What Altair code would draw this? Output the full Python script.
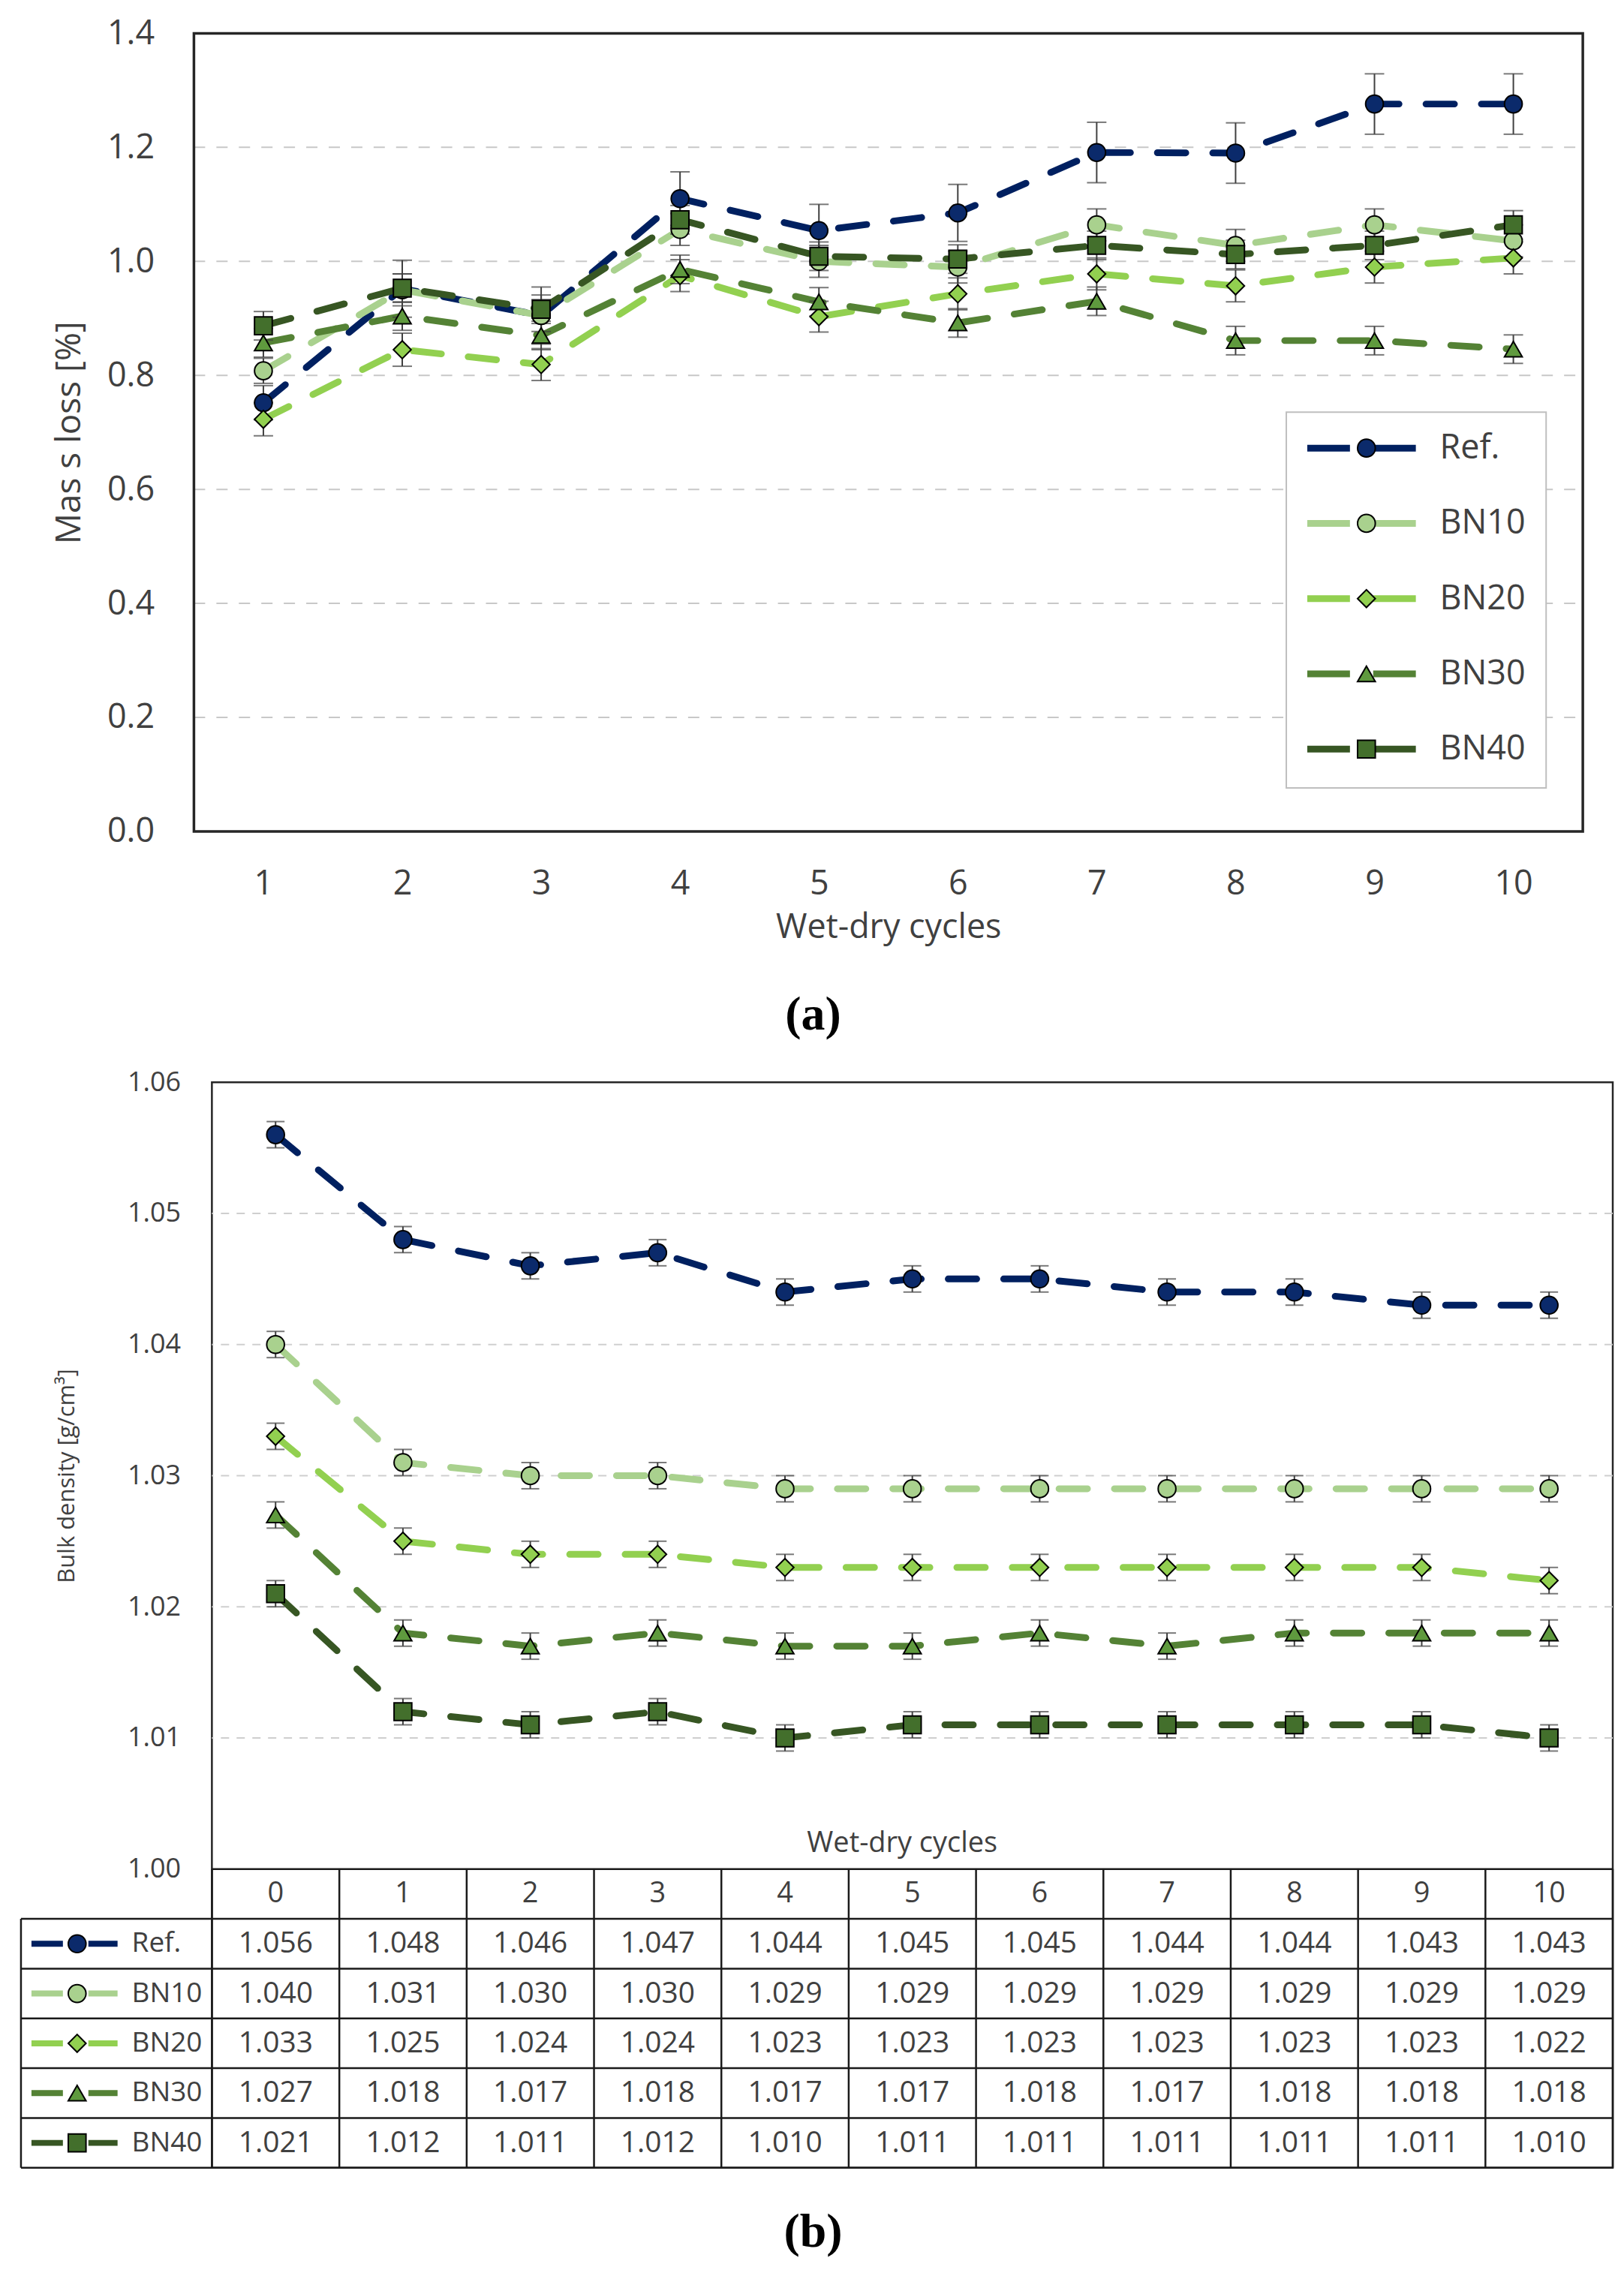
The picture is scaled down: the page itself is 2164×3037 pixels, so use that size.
import pandas as pd
import altair as alt

SERIES = ["Ref.", "BN10", "BN20", "BN30", "BN40"]
LINE_COLORS = ["#002060", "#a9d18e", "#92d050", "#548235", "#375623"]
MARKER_FILLS = ["#0b2a6b", "#a9d18e", "#92d050", "#5f9a3e", "#436f2c"]
MARKER_SHAPES = ["circle", "circle", "diamond", "triangle-up", "square"]
MARKER_SIZES = [560, 560, 330, 430, 480]
PANEL_LABELS = ["(a)", "(b)"]
TXT = "#404040"

# (a) mass loss after wet-dry cycles [%]
CYCLES_A = [1, 2, 3, 4, 5, 6, 7, 8, 9, 10]
LOSS_REF = [0.752, 0.952, 0.905, 1.110, 1.054, 1.085, 1.191, 1.190, 1.276, 1.276]
LOSS_BN10 = [0.808, 0.950, 0.905, 1.056, 1.000, 0.990, 1.064, 1.028, 1.064, 1.036]
LOSS_BN20 = [0.723, 0.845, 0.819, 0.975, 0.903, 0.943, 0.978, 0.957, 0.990, 1.006]
LOSS_BN30 = [0.857, 0.904, 0.870, 0.986, 0.929, 0.892, 0.930, 0.861, 0.861, 0.846]
LOSS_BN40 = [0.887, 0.953, 0.916, 1.073, 1.009, 1.004, 1.028, 1.012, 1.028, 1.064]
ERR_A_REF = [0.030, 0.050, 0.050, 0.047, 0.046, 0.050, 0.053, 0.053, 0.053, 0.053]
ERR_A_BN10 = [0.022, 0.028, 0.028, 0.028, 0.028, 0.028, 0.028, 0.028, 0.028, 0.028]
ERR_A_BN20 = [0.029, 0.029, 0.028, 0.028, 0.027, 0.028, 0.028, 0.028, 0.028, 0.028]
ERR_A_BN30 = [0.025, 0.025, 0.025, 0.025, 0.025, 0.025, 0.025, 0.025, 0.025, 0.025]
ERR_A_BN40 = [0.025, 0.025, 0.025, 0.025, 0.025, 0.025, 0.025, 0.025, 0.025, 0.025]
TICKS_A = [0.0, 0.2, 0.4, 0.6, 0.8, 1.0, 1.2, 1.4]
GRID_A = [0.2, 0.4, 0.6, 0.8, 1.0, 1.2]

# (b) bulk density [g/cm3]
CYCLES_B = [0, 1, 2, 3, 4, 5, 6, 7, 8, 9, 10]
DENS_REF = [1.056, 1.048, 1.046, 1.047, 1.044, 1.045, 1.045, 1.044, 1.044, 1.043, 1.043]
DENS_BN10 = [1.040, 1.031, 1.030, 1.030, 1.029, 1.029, 1.029, 1.029, 1.029, 1.029, 1.029]
DENS_BN20 = [1.033, 1.025, 1.024, 1.024, 1.023, 1.023, 1.023, 1.023, 1.023, 1.023, 1.022]
DENS_BN30 = [1.027, 1.018, 1.017, 1.018, 1.017, 1.017, 1.018, 1.017, 1.018, 1.018, 1.018]
DENS_BN40 = [1.021, 1.012, 1.011, 1.012, 1.010, 1.011, 1.011, 1.011, 1.011, 1.011, 1.010]
ERR_B = [0.001, 0.001, 0.001, 0.001, 0.001, 0.001, 0.001, 0.001, 0.001, 0.001, 0.001]
TICKS_B = [1.00, 1.01, 1.02, 1.03, 1.04, 1.05, 1.06]
GRID_B = [1.01, 1.02, 1.03, 1.04, 1.05]

# table structure: header row + one row per series, legend column + one column per cycle
ROW_EDGES = [0, 1, 2, 3, 4, 5, 6]
COL_EDGES = [-1.5, 0, 1, 2, 3, 4, 5, 6, 7, 8, 9, 10, 11]


def long_frame(cycles, values, errors):
    rows = []
    for i, (s, vals, errs) in enumerate(zip(SERIES, values, errors)):
        for c, v, e in zip(cycles, vals, errs):
            rows.append({"series": s, "row": i + 1, "cycle": c, "value": v,
                         "lo": v - e, "hi": v + e})
    return pd.DataFrame(rows)


df_a = long_frame(CYCLES_A, [LOSS_REF, LOSS_BN10, LOSS_BN20, LOSS_BN30, LOSS_BN40],
                  [ERR_A_REF, ERR_A_BN10, ERR_A_BN20, ERR_A_BN30, ERR_A_BN40])
df_b = long_frame(CYCLES_B, [DENS_REF, DENS_BN10, DENS_BN20, DENS_BN30, DENS_BN40],
                  [ERR_B] * 5)
df_b["cx"] = df_b["cycle"] + 0.5
df_b["cy"] = df_b["row"] + 0.5
df_b["txt"] = df_b["value"].map(lambda v: f"{v:.3f}")

df_leg = pd.DataFrame({"series": SERIES, "cy": [i + 1.5 for i in range(len(SERIES))]})
df_head = pd.DataFrame({"txt": [str(c) for c in CYCLES_B],
                        "cx": [c + 0.5 for c in CYCLES_B], "cy": 0.5})
df_h = pd.DataFrame({"y": ROW_EDGES,
                     "x1": [0 if r == 0 else COL_EDGES[0] for r in ROW_EDGES],
                     "x2": COL_EDGES[-1]})
df_v = pd.DataFrame({"x": COL_EDGES,
                     "y1": [1 if c == COL_EDGES[0] else 0 for c in COL_EDGES],
                     "y2": ROW_EDGES[-1]})
one = pd.DataFrame({"k": [0]})

color = alt.Color("series:N", scale=alt.Scale(domain=SERIES, range=LINE_COLORS), legend=None)
fill = alt.Fill("series:N", scale=alt.Scale(domain=SERIES, range=MARKER_FILLS), legend=None)
shape = alt.Shape("series:N", scale=alt.Scale(domain=SERIES, range=MARKER_SHAPES), legend=None)
size = alt.Size("series:N", scale=alt.Scale(domain=SERIES, range=MARKER_SIZES), legend=None)

# ---------------- (a) ----------------
# the concat lines up both plot origins, so panel (a) starts 24 px left of its origin
SHIFT = 24
W_A = 1855 - SHIFT
H_A = 1066
ax_xa = alt.Axis(title="Wet-dry cycles", labelAngle=0, ticks=False, tickSize=0, domain=False,
                 labelFontSize=45, labelPadding=48, labelColor=TXT, titleFontSize=45,
                 titleFontWeight="normal", titleColor=TXT, titlePadding=13)
ax_ya = alt.Axis(title="Mas s loss [%]", values=TICKS_A, format=".1f", grid=False, ticks=False,
                 tickSize=0, domain=False, offset=SHIFT, labelFontSize=45, labelPadding=53,
                 labelColor=TXT, titleFontSize=46, titleFontWeight="normal", titleColor=TXT,
                 titlePadding=26)
x_a = alt.X("cycle:O", scale=alt.Scale(type="point", padding=0.5, range=[-SHIFT, W_A]), axis=ax_xa)


def y_a(field):
    return alt.Y(f"{field}:Q", scale=alt.Scale(domain=[0, 1.4], nice=False), axis=ax_ya)


base_a = alt.Chart(df_a)
grid_a = alt.Chart(pd.DataFrame({"g": GRID_A})).mark_rule(
    color="#c8c8c8", strokeWidth=2, strokeDash=[15, 15]).encode(
    x=alt.value(-SHIFT), x2=alt.value(W_A), y=y_a("g"))
frame_a = alt.Chart(one).mark_rect(fill=None, stroke="#262626", strokeWidth=3.5).encode(
    x=alt.value(-SHIFT), x2=alt.value(W_A), y=alt.value(0), y2=alt.value(H_A))
lines_a = base_a.mark_line(strokeWidth=9, strokeDash=[38, 36], strokeCap="round").encode(
    x=x_a, y=y_a("value"), color=color)
err_a = base_a.mark_rule(color="#404040", strokeWidth=2).encode(
    x=x_a, y=y_a("lo"), y2="hi:Q")
caps_a = base_a.transform_fold(["lo", "hi"], as_=["end", "cap"]).mark_tick(
    color="#404040", thickness=2, size=26).encode(x=x_a, y=y_a("cap"))
pts_a = base_a.mark_point(filled=True, stroke="black", strokeWidth=2, opacity=1).encode(
    x=x_a, y=y_a("value"), fill=fill, shape=shape, size=size)
label_a = alt.Chart(one).mark_text(
    text=PANEL_LABELS[0], font="Liberation Serif", fontWeight="bold", fontSize=64,
    color="black").encode(x=alt.value(827 - SHIFT), y=alt.value(1312))
bound_a = alt.Chart(one).mark_rule(opacity=0, strokeWidth=1).encode(
    x=alt.value(-255), y=alt.value(-30), y2=alt.value(1367))

leg_y = alt.Y("series:N", scale=alt.Scale(type="point", domain=SERIES, range=[554, 956], padding=0),
              axis=None, sort=SERIES)
leg_box = alt.Chart(one).mark_rect(fill="white", stroke="#bfbfbf", strokeWidth=2).encode(
    x=alt.value(1459 - SHIFT), x2=alt.value(1806 - SHIFT), y=alt.value(506), y2=alt.value(1008))
leg_lines = alt.Chart(df_leg).mark_rule(strokeWidth=9, strokeDash=[57, 31]).encode(
    x=alt.value(1487 - SHIFT), x2=alt.value(1632 - SHIFT), y=leg_y, color=color)
leg_pts = alt.Chart(df_leg).mark_point(filled=True, stroke="black", strokeWidth=2, opacity=1).encode(
    x=alt.value(1566 - SHIFT), y=leg_y, fill=fill, shape=shape, size=size)
leg_txt = alt.Chart(df_leg).mark_text(align="left", baseline="middle", fontSize=45, color=TXT).encode(
    x=alt.value(1664 - SHIFT), y=leg_y, text="series:N")

main_a = alt.layer(grid_a, frame_a, lines_a, err_a, caps_a, pts_a, label_a, bound_a)
legend_a = alt.layer(leg_box, leg_lines, leg_pts, leg_txt)
top = alt.layer(main_a, legend_a).resolve_scale(y="independent").properties(
    width=W_A, height=H_A, view=alt.ViewBackground(stroke=None))

# ---------------- (b) ----------------
ax_yb = alt.Axis(title="Bulk density [g/cm³]", values=TICKS_B, format=".2f", grid=False, ticks=False,
                 tickSize=0, domain=False, labelFontSize=36, labelPadding=42, labelColor=TXT,
                 titleFontSize=31, titleFontWeight="normal", titleColor=TXT, titlePadding=64)
x_b = alt.X("cycle:O", scale=alt.Scale(type="point", padding=0.5), axis=None)


def y_b(field):
    return alt.Y(f"{field}:Q", scale=alt.Scale(domain=[1.0, 1.06], range=[1051, 0], nice=False, zero=False),
                 axis=ax_yb)


def x_t(field):
    return alt.X(f"{field}:Q", scale=alt.Scale(domain=[-1.5, 11], range=[-255, 1871], nice=False, zero=False),
                 axis=None)


def y_t(field):
    return alt.Y(f"{field}:Q", scale=alt.Scale(domain=[0, 6], range=[1051, 1450], nice=False, zero=False),
                 axis=None)


base_b = alt.Chart(df_b)
grid_b = alt.Chart(pd.DataFrame({"g": GRID_B})).mark_rule(
    color="#cfcfcf", strokeWidth=2, strokeDash=[11, 10]).encode(y=y_b("g"))
lines_b = base_b.mark_line(strokeWidth=9, strokeDash=[38, 36], strokeCap="round").encode(
    x=x_b, y=y_b("value"), color=color)
err_b = base_b.mark_rule(color="#404040", strokeWidth=2).encode(x=x_b, y=y_b("lo"), y2="hi:Q")
caps_b = base_b.transform_fold(["lo", "hi"], as_=["end", "cap"]).mark_tick(
    color="#404040", thickness=2, size=24).encode(x=x_b, y=y_b("cap"))
pts_b = base_b.mark_point(filled=True, stroke="black", strokeWidth=2, opacity=1).encode(
    x=x_b, y=y_b("value"), fill=fill, shape=shape, size=size)
xtitle_b = alt.Chart(one).mark_text(text="Wet-dry cycles", fontSize=38, color=TXT).encode(
    x=alt.value(922), y=alt.value(1017))
label_b = alt.Chart(one).mark_text(
    text=PANEL_LABELS[1], font="Liberation Serif", fontWeight="bold", fontSize=64,
    color="black").encode(x=alt.value(803), y=alt.value(1536))
bound_b = alt.Chart(one).mark_rule(opacity=0, strokeWidth=1).encode(
    x=alt.value(-255), y=alt.value(-32), y2=alt.value(0))

hl = alt.Chart(df_h).mark_rule(color="#1a1a1a", strokeWidth=2.5).encode(
    x=x_t("x1"), x2="x2:Q", y=y_t("y"))
vl = alt.Chart(df_v).mark_rule(color="#1a1a1a", strokeWidth=2.5).encode(
    x=x_t("x"), y=y_t("y1"), y2="y2:Q")
head = alt.Chart(df_head).mark_text(fontSize=38, color=TXT, baseline="middle").encode(
    x=x_t("cx"), y=y_t("cy"), text="txt:N")
cells = base_b.mark_text(fontSize=39, color=TXT, baseline="middle").encode(
    x=x_t("cx"), y=y_t("cy"), text="txt:N")
tleg_lines = alt.Chart(df_leg).mark_rule(strokeWidth=8, strokeDash=[42, 34]).encode(
    x=alt.value(-241), x2=alt.value(-126), y=y_t("cy"), color=color)
tleg_pts = alt.Chart(df_leg).mark_point(filled=True, stroke="black", strokeWidth=2, opacity=1).encode(
    x=alt.value(-180), y=y_t("cy"), fill=fill, shape=shape, size=size)
tleg_txt = alt.Chart(df_leg).mark_text(align="left", baseline="middle", fontSize=37, color=TXT).encode(
    x=alt.value(-107), y=y_t("cy"), text="series:N")

dens = alt.layer(grid_b, lines_b, err_b, caps_b, pts_b, xtitle_b, label_b, bound_b)
table = alt.layer(hl, vl, head, cells, tleg_lines, tleg_pts, tleg_txt)
bottom = alt.layer(dens, table).resolve_scale(x="independent", y="independent").properties(
    width=1871, height=1450, view=alt.ViewBackground(stroke="#262626", strokeWidth=2.5))

chart = alt.vconcat(top, bottom, spacing=0).configure(
    padding={"left": 17, "top": 3, "right": 4, "bottom": 10}, font="Open Sans", background="white")

chart.save("out.html", embed_options={"renderer": "svg", "actions": False})
